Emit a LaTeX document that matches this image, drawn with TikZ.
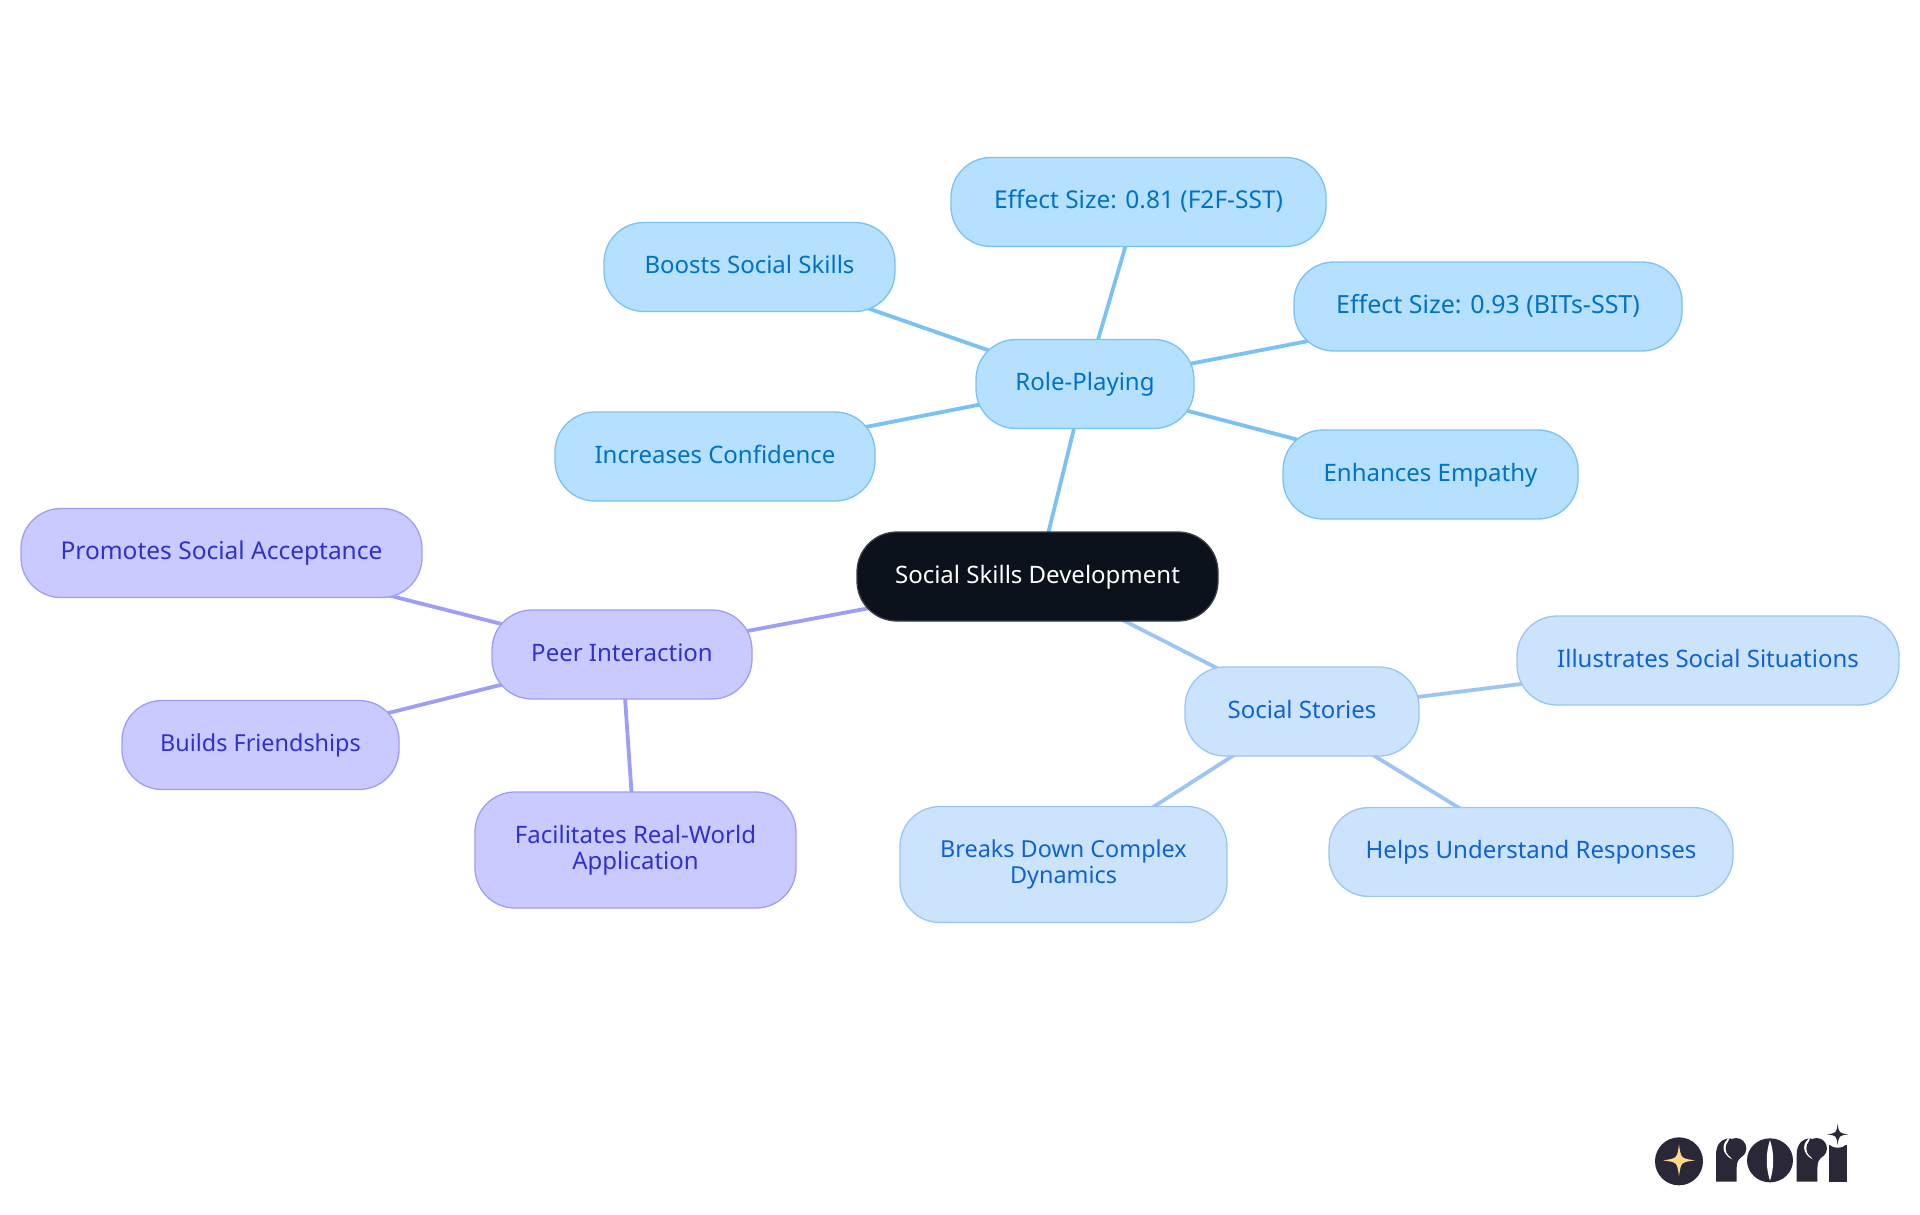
\documentclass[tikz,border=0pt]{standalone}
\usepackage{fontspec}
\setmainfont{Noto Sans}
\usetikzlibrary{backgrounds}
\definecolor{rootfill}{HTML}{0B121B}
\definecolor{rootline}{HTML}{3A3F46}
\definecolor{rolefill}{HTML}{B5E0FF}
\definecolor{roleline}{HTML}{7AC2F4}
\definecolor{roletext}{HTML}{0072C6}
\definecolor{storyfill}{HTML}{CCE3FD}
\definecolor{storyline}{HTML}{9CC5F3}
\definecolor{storytext}{HTML}{0E62D2}
\definecolor{peerfill}{HTML}{C9CAFF}
\definecolor{peerline}{HTML}{9D9EF5}
\definecolor{peertext}{HTML}{2F30CF}
\definecolor{logodark}{HTML}{2A2838}
\definecolor{logostar}{HTML}{FFD98C}
\newcommand{\fourstar}[4]{\fill[#4] (#1,#2-#3) .. controls (#1+0.12*#3,#2-0.12*#3) .. (#1+#3,#2) .. controls (#1+0.12*#3,#2+0.12*#3) .. (#1,#2+#3) .. controls (#1-0.12*#3,#2+0.12*#3) .. (#1-#3,#2) .. controls (#1-0.12*#3,#2-0.12*#3) .. cycle;}
\newcommand{\logor}[1]{%
  \fill[logodark] (348+#1,275) -- (348+#1,195) .. controls (348+#1,165) and (362+#1,145) .. (392+#1,145) -- (410+#1,205) -- (410+#1,275) -- cycle;
  \fill[white] (390+#1,142) .. controls (364+#1,157) and (362+#1,190) .. (396+#1,208) .. controls (382+#1,192) and (378+#1,160) .. cycle;
  \fill[logodark] (408+#1,175) circle (31);
  \fill[logodark] (396+#1,198) -- (424+#1,201) .. controls (415+#1,208) and (410+#1,218) .. (410+#1,232) -- cycle;
}
\tikzset{
  base/.style={draw,rounded corners=40pt,inner sep=0pt,align=center,line width=1.3pt,text height=17.5pt,text depth=4.5pt,font=\fontsize{24}{26}\selectfont},
  rootnode/.style={base,fill=rootfill,draw=rootline,text=white},
  rolenode/.style={base,fill=rolefill,draw=roleline,text=roletext},
  storynode/.style={base,fill=storyfill,draw=storyline,text=storytext},
  peernode/.style={base,fill=peerfill,draw=peerline,text=peertext},
  edge/.style={line width=3.8pt},
  widetext/.style={font=\fontsize{25}{26}\selectfont},
  wideish/.style={font=\fontsize{24.5}{26}\selectfont},
  narrowtext/.style={font=\fontsize{23.4}{26}\selectfont},
  twolines/.style={text height=,text depth=},
}
\begin{document}
\begin{tikzpicture}[x=1pt,y=-1pt]
\useasboundingbox (0,0) rectangle (1920,1215);
\node[rootnode,minimum width=361pt,minimum height=89pt] (root) at (1037.5,576.5) {Social Skills Development};
\node[rolenode,minimum width=218pt,minimum height=89pt] (role) at (1085,384) {Role-Playing};
\node[rolenode,wideish,minimum width=375pt,minimum height=89pt] (e81) at (1138.5,202) {Effect Size: 0.81 (F2F-SST)};
\node[rolenode,minimum width=291pt,minimum height=89pt] (boost) at (749.5,267) {Boosts Social Skills};
\node[rolenode,widetext,minimum width=388pt,minimum height=89pt] (e93) at (1488,306.5) {Effect Size: 0.93 (BITs-SST)};
\node[rolenode,minimum width=320pt,minimum height=89pt] (conf) at (715,456.5) {Increases Confidence};
\node[rolenode,minimum width=295pt,minimum height=89pt] (emp) at (1430.5,474.5) {Enhances Empathy};
\node[peernode,minimum width=260pt,minimum height=89pt] (peer) at (622,654.5) {Peer Interaction};
\node[peernode,twolines,minimum width=321pt,minimum height=116pt] (real) at (635.5,850) {Facilitates Real-World\\Application};
\node[peernode,wideish,minimum width=401pt,minimum height=89pt] (accept) at (221.5,553) {Promotes Social Acceptance};
\node[peernode,narrowtext,minimum width=277pt,minimum height=89pt] (friend) at (260.5,745) {Builds Friendships};
\node[storynode,minimum width=234pt,minimum height=89pt] (story) at (1302,711.5) {Social Stories};
\node[storynode,minimum width=382pt,minimum height=89pt] (illus) at (1708,660.5) {Illustrates Social Situations};
\node[storynode,narrowtext,twolines,minimum width=327pt,minimum height=116pt] (breaks) at (1063.5,864.5) {Breaks Down Complex\\Dynamics};
\node[storynode,minimum width=404pt,minimum height=89pt] (helps) at (1531,852) {Helps Understand Responses};
\begin{pgfonlayer}{background}
\draw[edge,draw=roleline] (root.center) -- (role.center);
\draw[edge,draw=roleline] (role.center) -- (e81.center);
\draw[edge,draw=roleline] (role.center) -- (boost.center);
\draw[edge,draw=roleline] (role.center) -- (e93.center);
\draw[edge,draw=roleline] (role.center) -- (conf.center);
\draw[edge,draw=roleline] (role.center) -- (emp.center);
\draw[edge,draw=peerline] (root.center) -- (peer.center);
\draw[edge,draw=peerline] (peer.center) -- (real.center);
\draw[edge,draw=peerline] (peer.center) -- (accept.center);
\draw[edge,draw=peerline] (peer.center) -- (friend.center);
\draw[edge,draw=storyline] (root.center) -- (story.center);
\draw[edge,draw=storyline] (story.center) -- (illus.center);
\draw[edge,draw=storyline] (story.center) -- (breaks.center);
\draw[edge,draw=storyline] (story.center) -- (helps.center);
\end{pgfonlayer}
\begin{scope}[shift={(1600pt,-1090pt)},x=0.3333pt,y=-0.3333pt]
\fill[logodark] (237,214) circle (72);
\fourstar{237}{211}{48}{logostar}
\logor{0}
\logor{242}
\fill[logodark] (510,211) ellipse (69 and 66);
\fill[white] (510,150) .. controls (497,190) and (497,232) .. (510,272) .. controls (523,232) and (523,190) .. cycle;
\fill[logodark] (687,165) rectangle (740,275);
\fill[white] (713,133) circle (40);
\fourstar{713}{133}{32}{logodark}
\end{scope}
\end{tikzpicture}
\end{document}
